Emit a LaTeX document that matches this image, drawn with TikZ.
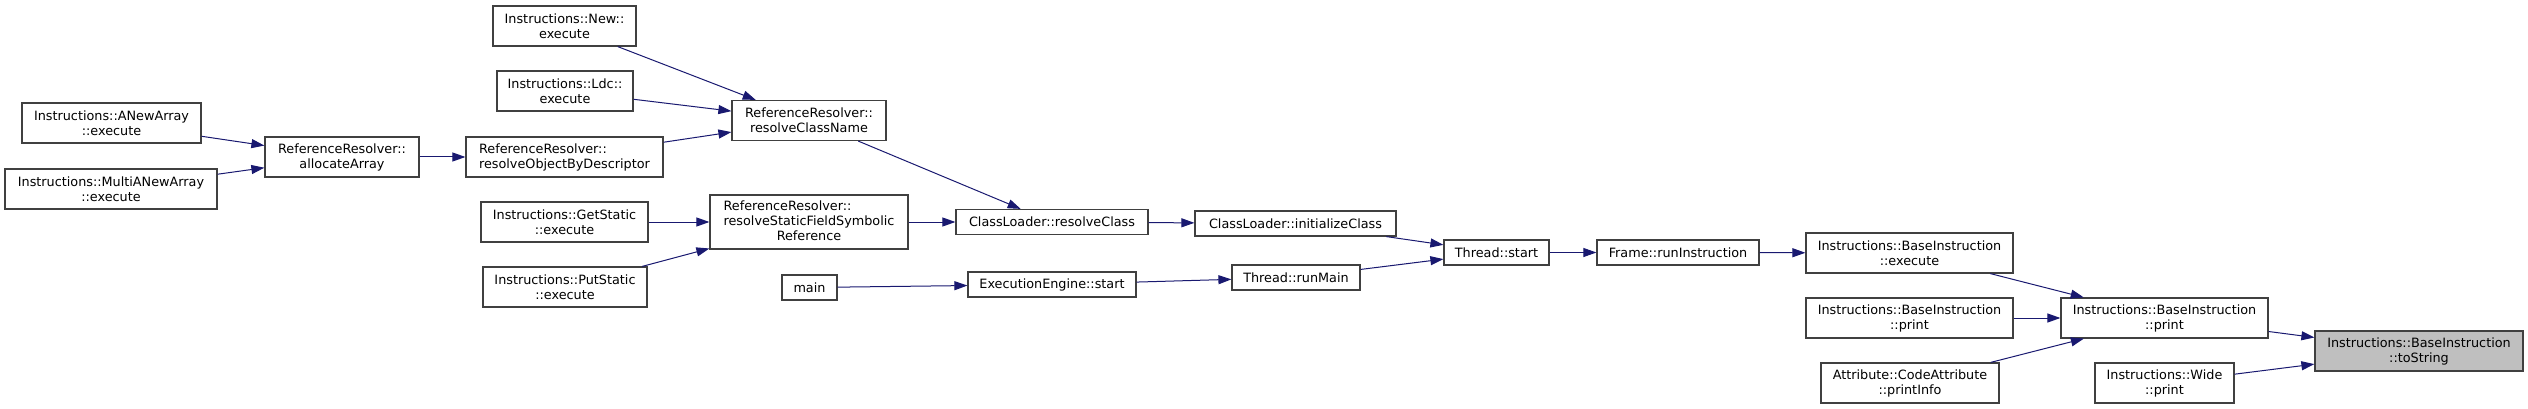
\documentclass[tikz,border=0pt]{standalone}
\usepackage{fontspec}
\setmainfont{DejaVu Sans}
\usetikzlibrary{arrows.meta,positioning}
\definecolor{edgeblue}{HTML}{191970}
\definecolor{boxline}{HTML}{404040}
\definecolor{focusgray}{HTML}{BFBFBF}

\begin{document}
\begin{tikzpicture}[
  x=1pt,y=-1pt,
  every node/.style={draw=boxline,fill=white,line width=1.2pt,align=center,inner sep=2pt,
    minimum height=40pt,font=\fontsize{12.8}{15}\selectfont},
  single/.style={minimum height=25pt},
  focus/.style={fill=focusgray},
  call/.style={draw=edgeblue,line width=1pt,-{Triangle[length=13pt,width=9pt]}}
]
  \useasboundingbox (0,0) rectangle (2528,409);

  \node[minimum width=179pt] (anew) at (111.5,123) {Instructions::ANewArray\\::execute};
  \node[minimum width=212pt] (multianew) at (111,189) {Instructions::MultiANewArray\\::execute};
  \node[minimum width=154pt] (allocarray) at (342,157) {ReferenceResolver::\\allocateArray};

  \node[minimum width=143pt] (newexec) at (564.5,26) {Instructions::New::\\execute};
  \node[minimum width=136pt] (ldcexec) at (565,91) {Instructions::Ldc::\\execute};
  \node[minimum width=197pt,align=left] (objbydesc) at (564.5,157) {ReferenceResolver::\\resolveObjectByDescriptor};
  \node[minimum width=167pt] (getstatic) at (564.5,222) {Instructions::GetStatic\\::execute};
  \node[minimum width=164pt] (putstatic) at (565,287) {Instructions::PutStatic\\::execute};

  \node[minimum width=154pt] (classname) at (809,120.5) {ReferenceResolver::\\resolveClassName};
  \node[minimum width=198pt,minimum height=54pt] (staticfield) at (809,222)
    {\begin{tabular}{@{}l@{}}ReferenceResolver::\\resolveStaticFieldSymbolic\\\multicolumn{1}{@{}c@{}}{Reference}\end{tabular}};
  \node[single,minimum width=55pt] (mainfn) at (809.5,287.5) {main};

  \node[single,minimum width=192pt] (resolveclass) at (1052,222) {ClassLoader::resolveClass};
  \node[single,minimum width=168pt] (enginestart) at (1052,284.5) {ExecutionEngine::start};
  \node[single,minimum width=201pt] (initclass) at (1295.5,223.5) {ClassLoader::initializeClass};
  \node[single,minimum width=128pt] (runmain) at (1296,277.5) {Thread::runMain};
  \node[single,minimum width=105pt] (threadstart) at (1496.5,252.5) {Thread::start};
  \node[single,minimum width=162pt] (runinstr) at (1678,252.5) {Frame::runInstruction};

  \node[minimum width=207pt] (baseexec) at (1909.5,253) {Instructions::BaseInstruction\\::execute};
  \node[minimum width=207pt] (baseprint) at (1909.5,318) {Instructions::BaseInstruction\\::print};
  \node[minimum width=178pt] (printinfo) at (1910,383) {Attribute::CodeAttribute\\::printInfo};
  \node[minimum width=207pt] (print) at (2164.5,318) {Instructions::BaseInstruction\\::print};
  \node[minimum width=139pt] (wideprint) at (2164.5,383) {Instructions::Wide\\::print};
  \node[focus,minimum width=208pt] (tostring) at (2419,351) {Instructions::BaseInstruction\\::toString};

  % callers point at the function they call
  \draw[call] (anew) -- (allocarray);
  \draw[call] (multianew) -- (allocarray);
  \draw[call] (allocarray) -- (objbydesc);
  \draw[call] (newexec) -- (classname);
  \draw[call] (ldcexec) -- (classname);
  \draw[call] (objbydesc) -- (classname);
  \draw[call] (getstatic) -- (staticfield);
  \draw[call] (putstatic) -- (staticfield);
  \draw[call] (classname) -- (resolveclass);
  \draw[call] (staticfield) -- (resolveclass);
  \draw[call] (resolveclass) -- (initclass);
  \draw[call] (mainfn) -- (enginestart);
  \draw[call] (enginestart) -- (runmain);
  \draw[call] (initclass) -- (threadstart);
  \draw[call] (runmain) -- (threadstart);
  \draw[call] (threadstart) -- (runinstr);
  \draw[call] (runinstr) -- (baseexec);
  \draw[call] (baseexec) -- (print);
  \draw[call] (baseprint) -- (print);
  \draw[call] (printinfo) -- (print);
  \draw[call] (print) -- (tostring);
  \draw[call] (wideprint) -- (tostring);
\end{tikzpicture}
\end{document}
